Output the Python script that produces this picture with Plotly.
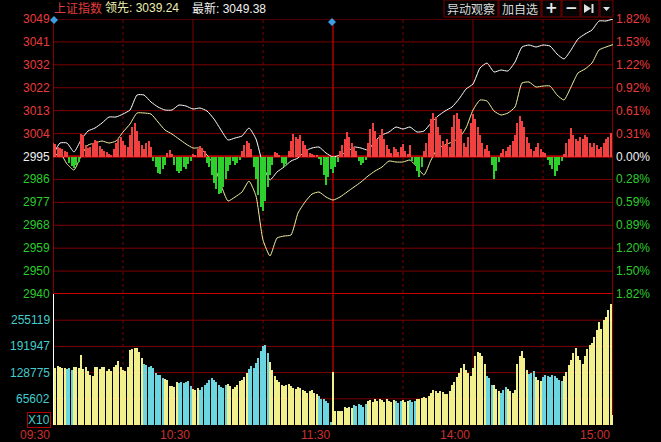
import plotly.graph_objects as go

# ---------------- data ----------------
prev_close = 2994.87
price_hi, price_lo = 3049.38, 2940.36
vol_lo, vol_hi = 2430, 318291

title_name = "上证指数"
lead_text = "领先: 3039.24"
last_text = "最新: 3049.38"

line_times = list(range(0, 241, 3))  # minutes since 09:30 (trading minutes)
latest = [2995.46, 3000.21, 3000.21, 2996.65, 3001.40, 3004.97, 3006.16, 3008.14, 3010.52, 3010.52,
          3011.71, 3013.30, 3019.25, 3019.25, 3016.47, 3014.49, 3013.30, 3013.30, 3015.28, 3014.88,
          3013.69, 3014.09, 3012.90, 3009.73, 3005.37, 3001.40, 3002.20, 3002.99, 3006.16, 3001.80,
          2991.49, 2985.54, 2988.72, 2990.70, 2993.08, 2994.27, 2997.04, 2998.23, 2998.63, 2996.25,
          2994.66, 2995.46, 2996.65, 2998.63, 2998.23, 2997.44, 3001.01, 3003.39, 3004.58, 3006.56,
          3005.76, 3006.56, 3004.58, 3004.97, 3008.14, 3010.92, 3012.90, 3014.49, 3017.66, 3021.62,
          3023.61, 3029.95, 3031.93, 3028.37, 3029.16, 3028.76, 3032.33, 3038.28, 3039.07, 3038.28,
          3039.07, 3038.67, 3035.50, 3033.52, 3037.09, 3041.45, 3043.43, 3045.02, 3048.59, 3048.59,
          3049.38]
leading = [2994.66, 2996.25, 2991.89, 2989.51, 2995.06, 2999.42, 3000.21, 3001.01, 3000.21, 3001.01,
           3004.58, 3007.75, 3012.11, 3012.11, 3011.71, 3008.54, 3005.37, 3003.78, 3001.80, 2999.82,
           2998.23, 2998.23, 2995.46, 2991.49, 2983.56, 2977.22, 2978.80, 2980.79, 2985.15, 2979.20,
           2961.75, 2955.41, 2962.55, 2963.34, 2963.74, 2972.46, 2976.82, 2979.99, 2980.79, 2978.80,
           2977.61, 2978.80, 2980.79, 2982.77, 2984.75, 2987.13, 2989.11, 2990.70, 2993.08, 2992.68,
           2992.68, 2993.47, 2990.70, 2987.53, 2993.47, 2998.23, 2999.42, 3000.61, 3002.20, 3006.16,
           3013.30, 3017.26, 3016.87, 3012.90, 3011.32, 3012.11, 3014.49, 3024.00, 3024.40, 3022.42,
           3022.81, 3022.81, 3019.25, 3017.26, 3022.42, 3027.97, 3029.55, 3031.93, 3037.09, 3038.28,
           3039.24]

# buying/selling strength bars (per minute)
strength = [14, 13, 10, 9, 8, 6, 5,
            -6, -9, -11, -8, -5,
            23, 22,
            12, 9, 10, 14, 17, 16, 11,
            8, 6, 5, 3, 2,
            8, 14, 18, 20, 16, 12, 10, 22, 30,
            34, 26, 16, 12, 8, 14, 16, 10,
            -4, -10, -16, -17, -12, -8,
            4, 7, 3,
            -8, -14, -16, -14, -10, -12, -7, -4,
            3, 2,
            8, 11, 9, 6,
            -6, -10, -18, -26, -32, -37, -36, -30, -22, -14, -8, -4,
            -8, -6, -3,
            6, 12, 16, 14, 8,
            -10, -22, -38, -50, -54, -44, -30, -18, -8,
            5, 4, 2,
            -6, -10, -7,
            6, 16, 23, 20, 18, 22, 16,
            12, 8, 4,
            3, 2, 1, -2,
            -8, -18, -28, -20, -12, -16, -10, -5,
            6, 12, 18, 25, 20, 14, 10, 6,
            -4, -8, -6, -3,
            14, 28, 34, 26, 18, 22, 28, 18, 12, 8,
            4, 10, 8, 5,
            10, 13, 6, 3, 12,
            -4, -8, -14, -20, -10,
            6, 14, 24, 38,
            44, 40, 30, 22,
            16, 12, 18, 10,
            30, 42, 44, 38, 28,
            14, 10, 20,
            34, 43, 38, 30, 22, 14,
            8, 12, 6,
            -8, -22, -14, -5,
            4, 8, 6, 10,
            12, 16, 22,
            34, 41, 36, 30,
            20, 14, 8, 6,
            10, 14, 8, 5, 4,
            -3, -8, -12, -19, -14,
            -8, -4, 3,
            14, 18, 29, 22, 18, 16,
            20, 18, 22, 20, 14, 10, 14,
            12, 8, 10, 14, 18, 20, 24]

# volume per minute, thousands
volume_k = [420,
            140, 145, 143, 141, 140, 138, 140, 136, 143, 142,
            140, 171,
            138, 143, 132, 123,
            121, 143, 142, 138,
            143, 142, 132, 138, 132,
            143, 147, 156, 143,
            134, 132, 143,
            183, 186, 188,
            188, 178, 164,
            150, 147, 142, 145, 140,
            128, 123, 122,
            116, 113, 111,
            96, 97, 95,
            105, 104, 106, 103, 106, 108,
            96, 90, 87, 92,
            88, 95, 100, 104, 110, 115, 112, 106,
            100, 95, 92, 98, 102, 96, 90, 94,
            100, 108, 112, 118, 128, 138, 145,
            140, 152, 165, 180, 192,
            196, 175, 155, 135, 120,
            112, 106, 100, 96, 98,
            102, 96, 92, 90, 94, 92,
            88, 85, 80, 84, 86, 80, 76,
            72, 66, 64, 60, 56,
            10,
            130,
            36, 35, 37, 36,
            45, 44, 46, 43,
            50, 48, 52, 50, 47, 52,
            60, 62, 58, 64, 60, 66, 62, 58, 64, 60,
            58, 62, 60, 56, 60, 62, 58, 60, 62, 58,
            60, 64, 66, 68,
            70, 68, 72, 80,
            86, 84, 80, 84,
            82, 78, 76, 85, 98,
            106, 118, 128,
            140, 150, 135,
            128, 120, 140, 170,
            178, 175, 170,
            150, 120,
            115, 100, 98, 90, 85, 80, 86,
            95, 90, 84, 80, 88,
            150, 170, 182, 165,
            135, 126, 128, 132,
            118, 112, 108, 118, 122, 120,
            118, 124, 120, 116, 110, 108, 120,
            130, 148, 160, 176,
            188, 168, 160,
            150, 170, 185, 195,
            200, 215, 232,
            250, 235, 256,
            262, 280,
            295,
            27]

price_labels = ["3049", "3041", "3032", "3022", "3013", "3004", "2995",
                "2986", "2977", "2968", "2959", "2950", "2940"]
pct_labels = ["1.82%", "1.53%", "1.22%", "0.92%", "0.61%", "0.31%", "0.00%",
              "0.28%", "0.59%", "0.89%", "1.20%", "1.50%", "1.82%"]
vol_ticks = [255119, 191947, 128775, 65602]
vol_labels = ["255119", "191947", "128775", "65602"]
time_ticks = [0, 60, 120, 180, 240]
time_labels = ["09:30", "10:30", "11:30", "14:00", "15:00"]
button_labels = ["异动观察", "加自选"]

# ---------------- layout geometry ----------------
W, H = 661, 442
ML, MR, MT, MB = 53, 48, 19, 17
PW = W - ML - MR
PH = H - MT - MB
VOL_FRAC = 131 / PH


def px(x):
    return (x - ML) / PW


def py(y):
    return (H - MB - y) / PH


RED = "#e83c3c"
GREEN = "#2ccc2c"
WHITE = "#f0f0f0"
CYAN = "#44cccc"
GRID = "#7e0000"
FONT = "Liberation Sans, Arial, Noto Sans CJK SC, sans-serif"
BAR_W = 0.36

n_lv = len(price_labels)
price_levels = [price_hi - i * (price_hi - price_lo) / (n_lv - 1) for i in range(n_lv)]
mid = n_lv // 2

fig = go.Figure()

# strength bars
minutes = list(range(len(strength)))
fig.add_trace(go.Bar(
    x=minutes, y=strength, width=BAR_W, yaxis="y3",
    marker=dict(color=["#f04040" if v >= 0 else "#2ed02e" for v in strength], line=dict(width=0)),
    hoverinfo="skip"))

# volume bars
up_c, dn_c = "#f2f08c", "#6cd6e0"
vol_colors = []
for m in range(len(volume_k)):
    if m == 0:
        vol_colors.append("#ffffff")
        continue
    k = min(m // 3, len(latest) - 2)
    vol_colors.append(up_c if latest[k + 1] >= latest[k] else dn_c)
fig.add_trace(go.Bar(
    x=list(range(len(volume_k))), y=[v * 1000 for v in volume_k], width=BAR_W, yaxis="y2",
    marker=dict(color=vol_colors, line=dict(width=0)), hoverinfo="skip"))

# lines
fig.add_trace(go.Scatter(x=line_times, y=leading, mode="lines", yaxis="y",
                         line=dict(color="#f4f0a0", width=1, shape="spline", smoothing=0.5),
                         hoverinfo="skip"))
fig.add_trace(go.Scatter(x=line_times, y=latest, mode="lines", yaxis="y",
                         line=dict(color="#ffffff", width=1, shape="spline", smoothing=0.5),
                         hoverinfo="skip"))

shapes = []
# price grid
for i, lv in enumerate(price_levels):
    if i == mid:
        c, w = "#b80000", 2.5
    elif i == n_lv - 1:
        c, w = "#c80000", 2
    elif i == 0:
        c, w = "#a00000", 1
    else:
        c, w = GRID, 1
    shapes.append(dict(type="line", xref="paper", yref="y", x0=0, x1=1, y0=lv, y1=lv,
                       line=dict(color=c, width=w), layer="below"))
# volume grid
for v in vol_ticks + [vol_lo]:
    shapes.append(dict(type="line", xref="paper", yref="y2", x0=0, x1=1, y0=v, y1=v,
                       line=dict(color=GRID, width=1), layer="below"))
# vertical lines
for t in range(0, 241, 30):
    if t in (0, 240):
        ln = dict(color="#b00000", width=1.5)
    elif t == 120:
        ln = dict(color="#b00000", width=1.5)
    elif t % 60 == 0:
        ln = dict(color=GRID, width=1)
    else:
        ln = dict(color=GRID, width=1, dash="dot")
    shapes.append(dict(type="line", xref="x", yref="paper", x0=t, x1=t, y0=0, y1=1,
                       line=ln, layer="below"))

# buttons
btn_boxes = [(444, 498), (499, 541), (542, 561), (562, 580), (581, 599), (600, 613)]
for x0, x1 in btn_boxes:
    shapes.append(dict(type="rect", xref="paper", yref="paper", x0=px(x0), x1=px(x1),
                       y0=py(17), y1=py(0), line=dict(color="#7a0000", width=1),
                       fillcolor="#050505", layer="above"))
# play-to-end icon
shapes.append(dict(type="path", xref="paper", yref="paper",
                   path=f"M {px(584)},{py(4)} L {px(584)},{py(13)} L {px(591)},{py(8.5)} Z",
                   fillcolor="#e0e0e0", line=dict(width=0)))
shapes.append(dict(type="rect", xref="paper", yref="paper", x0=px(591.5), x1=px(593.5),
                   y0=py(13), y1=py(4), fillcolor="#e0e0e0", line=dict(width=0)))
# dropdown triangle
shapes.append(dict(type="path", xref="paper", yref="paper",
                   path=f"M {px(603)},{py(7)} L {px(610)},{py(7)} L {px(606.5)},{py(11)} Z",
                   fillcolor="#e0e0e0", line=dict(width=0)))
# blue diamonds
for cx, cy in [(54, 20), (332, 22)]:
    shapes.append(dict(type="path", xref="paper", yref="paper",
                       path=(f"M {px(cx)},{py(cy - 4)} L {px(cx + 4)},{py(cy)} "
                             f"L {px(cx)},{py(cy + 4)} L {px(cx - 4)},{py(cy)} Z"),
                       fillcolor="#3c9ee0", line=dict(width=0)))

ann = []
for i, (lv, lab, pl) in enumerate(zip(price_levels, price_labels, pct_labels)):
    col = RED if i < mid else (WHITE if i == mid else GREEN)
    ann.append(dict(x=0, xref="paper", y=lv, yref="y", text=lab, showarrow=False,
                    xanchor="right", yanchor="middle", xshift=-1,
                    font=dict(family=FONT, size=12, color=col)))
    ann.append(dict(x=1, xref="paper", y=lv, yref="y", text=pl, showarrow=False,
                    xanchor="left", yanchor="middle", xshift=1,
                    font=dict(family=FONT, size=12, color=col)))
for v, lab in zip(vol_ticks, vol_labels):
    ann.append(dict(x=0, xref="paper", y=v, yref="y2", text=lab, showarrow=False,
                    xanchor="right", yanchor="middle", xshift=-1,
                    font=dict(family=FONT, size=12, color=CYAN)))
ann.append(dict(x=px(39), xref="paper", y=py(420), yref="paper", text="X10", showarrow=False,
                xanchor="center", yanchor="middle", bordercolor="#b00000", borderwidth=1,
                borderpad=0, font=dict(family=FONT, size=12, color=CYAN)))
for t, lab in zip(time_ticks, time_labels):
    ann.append(dict(x=t, xref="x", y=py(435), yref="paper", text=lab, showarrow=False,
                    xanchor="right", yanchor="middle", xshift=-1,
                    font=dict(family=FONT, size=12, color="#cc3030")))
# header
ann.append(dict(x=px(52), xref="paper", y=py(8), yref="paper", text=title_name, showarrow=False,
                xanchor="left", yanchor="middle", font=dict(family=FONT, size=12, color="#e03c3c")))
ann.append(dict(x=px(103), xref="paper", y=py(8), yref="paper", text=lead_text, showarrow=False,
                xanchor="left", yanchor="middle", font=dict(family=FONT, size=12, color="#eeeeb0")))
ann.append(dict(x=px(190), xref="paper", y=py(8), yref="paper", text=last_text, showarrow=False,
                xanchor="left", yanchor="middle", font=dict(family=FONT, size=12, color="#f0f0f0")))
# button labels
for (x0, x1), lab in zip(btn_boxes[:2], button_labels):
    ann.append(dict(x=px((x0 + x1) / 2), xref="paper", y=py(8.5), yref="paper", text=lab,
                    showarrow=False, xanchor="center", yanchor="middle",
                    font=dict(family="Noto Sans CJK SC", size=12, color="#d8d8d8")))
ann.append(dict(x=px(551.5), xref="paper", y=py(8.5), yref="paper", text="<b>+</b>",
                showarrow=False, xanchor="center", yanchor="middle",
                font=dict(family="DejaVu Sans", size=15, color="#e8e8e8")))
ann.append(dict(x=px(571), xref="paper", y=py(8.5), yref="paper", text="<b>−</b>",
                showarrow=False, xanchor="center", yanchor="middle",
                font=dict(family="DejaVu Sans", size=15, color="#e8e8e8")))

fig.update_layout(
    width=W, height=H,
    margin=dict(l=ML, r=MR, t=MT, b=MB, pad=0),
    paper_bgcolor="#000000", plot_bgcolor="#000000",
    showlegend=False, hovermode=False, barmode="overlay", bargap=0,
    xaxis=dict(range=[0, 240], anchor="y2", showgrid=False, zeroline=False,
               showticklabels=False, showline=False, ticks=""),
    yaxis=dict(domain=[VOL_FRAC, 1], range=[price_lo, price_hi], showgrid=False,
               zeroline=False, showticklabels=False, ticks=""),
    yaxis2=dict(domain=[0, VOL_FRAC], range=[vol_lo, vol_hi], showgrid=False,
                zeroline=False, showticklabels=False, ticks=""),
    yaxis3=dict(overlaying="y", range=[-137.5, 137.5], visible=False),
    shapes=shapes, annotations=ann,
)

fig.write_html(
    "out.html",
    config={"displayModeBar": False},
    post_script="document.body.style.margin='0';document.body.style.padding='0';"
                "document.body.style.overflow='hidden';document.body.style.background='#000';",
)
